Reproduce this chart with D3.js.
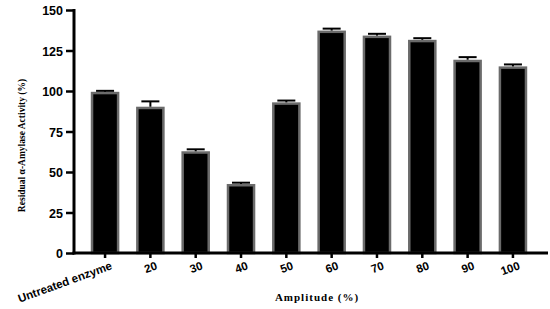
<!DOCTYPE html>
<html lang="en">
<head>
  <meta charset="UTF-8">
  <title>Residual alpha-Amylase Activity</title>
  <style>
    body {
      margin: 0;
      background-color: #fff;
    }
    svg {
      display: block;
    }
    .tick-label {
      font-family: "Liberation Sans", Arial, sans-serif;
      font-weight: bold;
      font-size: 12.5px;
      fill: #000;
    }
    .x-label {
      font-size: 11.5px;
    }
    .axis-title {
      font-family: "Liberation Serif", "Times New Roman", serif;
      font-weight: bold;
      fill: #000;
    }
  </style>
</head>
<body>
  <div id="chart"></div>

  <script src="https://d3js.org/d3.v7.min.js"></script>
  <script>
    const categories = ["Untreated enzyme", "20", "30", "40", "50", "60", "70", "80", "90", "100"];
    const activity = [99.5, 90.3, 62.8, 42.6, 93.0, 137.3, 134.2, 131.6, 119.3, 115.2];
    const errors = [0.6, 3.3, 1.2, 0.8, 1.1, 1.2, 1.1, 1.0, 1.6, 1.2];
    const yTicks = [0, 25, 50, 75, 100, 125, 150];

    const width = 550;
    const height = 309;

    const svg = d3.select("#chart")
      .append("svg")
      .attr("width", width)
      .attr("height", height);

    const x = d3.scaleBand()
      .domain(categories)
      .range([82.4, 535.6])
      .paddingInner(0.37)
      .paddingOuter(0.185);

    const y = d3.scaleLinear()
      .domain([0, 150])
      .range([253, 10]);

    const axisX = 74;

    // bars
    svg.append("g")
      .selectAll("rect")
      .data(categories)
      .enter()
      .append("rect")
      .attr("x", d => x(d) + 1.25)
      .attr("y", (d, i) => y(activity[i]) + 1.25)
      .attr("width", x.bandwidth() - 2.5)
      .attr("height", (d, i) => y(0) - y(activity[i]) - 1.25)
      .attr("fill", "#000")
      .attr("stroke", "#6b6b6b")
      .attr("stroke-width", 2.5);

    // error bars (upper half only)
    const err = svg.append("g")
      .selectAll("g")
      .data(categories)
      .enter()
      .append("g");

    err.append("line")
      .attr("x1", d => x(d) + x.bandwidth() / 2)
      .attr("x2", d => x(d) + x.bandwidth() / 2)
      .attr("y1", (d, i) => y(activity[i]))
      .attr("y2", (d, i) => y(activity[i] + errors[i]))
      .attr("stroke", "#000")
      .attr("stroke-width", 2);

    err.append("line")
      .attr("x1", d => x(d) + x.bandwidth() / 2 - 9)
      .attr("x2", d => x(d) + x.bandwidth() / 2 + 9)
      .attr("y1", (d, i) => y(activity[i] + errors[i]))
      .attr("y2", (d, i) => y(activity[i] + errors[i]))
      .attr("stroke", "#000")
      .attr("stroke-width", 2);

    // y axis
    const yAxis = svg.append("g")
      .attr("transform", `translate(${axisX},0)`)
      .call(d3.axisLeft(y).tickValues(yTicks).tickSize(8).tickPadding(3));
    yAxis.select(".domain")
      .attr("stroke", "#000")
      .attr("stroke-width", 3)
      .attr("d", `M0,${y(150) - 1}V${y(0) + 1.5}`);
    yAxis.selectAll(".tick line")
      .attr("stroke", "#000")
      .attr("stroke-width", 2.5);
    yAxis.selectAll(".tick text")
      .attr("class", "tick-label")
      .attr("font-family", null)
      .attr("font-size", null)
      .attr("dy", "0.36em");

    // x axis
    svg.append("line")
      .attr("x1", axisX - 1.5)
      .attr("x2", 548)
      .attr("y1", y(0))
      .attr("y2", y(0))
      .attr("stroke", "#000")
      .attr("stroke-width", 3);

    const xAxis = svg.append("g")
      .attr("transform", `translate(0,${y(0)})`)
      .call(d3.axisBottom(x).tickSize(5).tickPadding(4));
    xAxis.select(".domain").remove();
    xAxis.selectAll(".tick line")
      .attr("stroke", "#000")
      .attr("stroke-width", 2.5);
    xAxis.selectAll(".tick text")
      .attr("class", "tick-label x-label")
      .attr("font-family", null)
      .attr("font-size", null)
      .attr("text-anchor", "end")
      .attr("dy", "0.9em")
      .attr("dx", "0.1em")
      .attr("transform", "translate(0,-2) rotate(-20)");

    // axis titles
    svg.append("text")
      .attr("class", "axis-title")
      .attr("transform", `translate(25,${(y(0) + y(150)) / 2 + 14}) rotate(-90)`)
      .attr("text-anchor", "middle")
      .style("font-size", "9.5px")
      .text("Residual \u03b1-Amylase Activity (%)");

    svg.append("text")
      .attr("class", "axis-title")
      .attr("x", 317)
      .attr("y", 301)
      .attr("text-anchor", "middle")
      .style("font-size", "11px")
      .style("letter-spacing", "1px")
      .text("Amplitude (%)");
  </script>
</body>
</html>
